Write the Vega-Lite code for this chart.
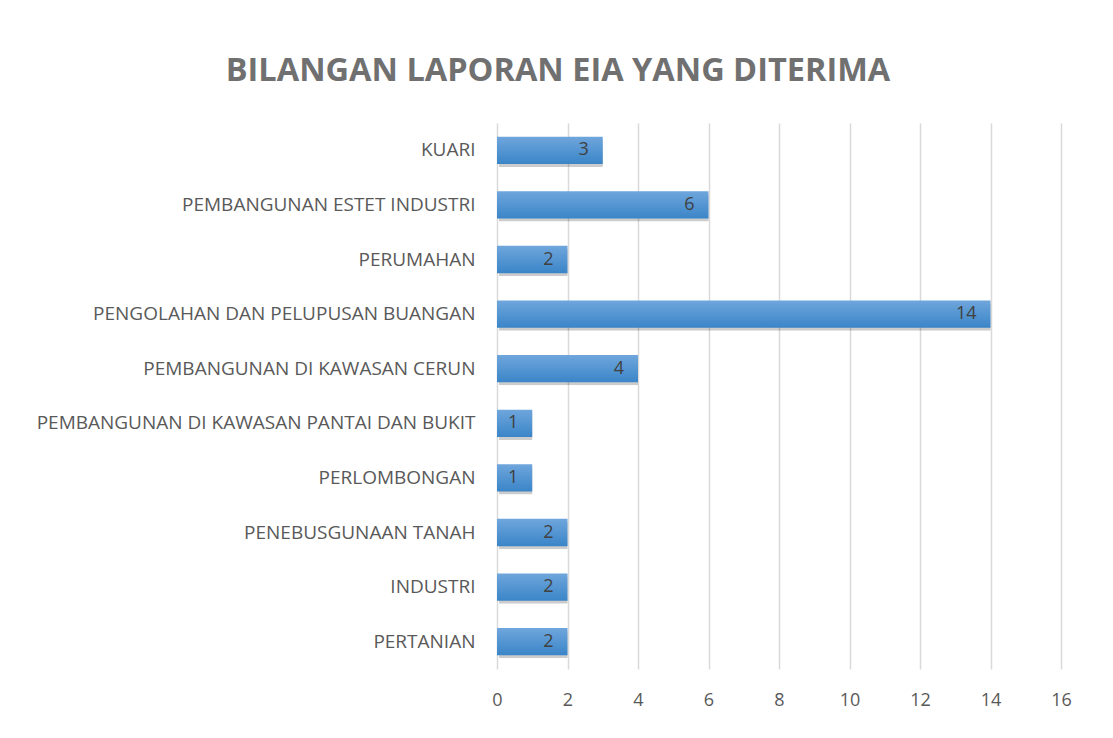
{
  "$schema": "https://vega.github.io/schema/vega-lite/v6.json",
  "autosize": "none",
  "width": 564,
  "height": 546,
  "padding": {"left": 497, "top": 123, "right": 52, "bottom": 69},
  "background": "#ffffff",
  "title": {
    "text": "BILANGAN LAPORAN EIA YANG DITERIMA",
    "font": "Open Sans",
    "fontSize": 32.5,
    "fontWeight": "bold",
    "color": "#707070",
    "anchor": "middle",
    "dx": -221,
    "offset": 36
  },
  "data": {
    "values": [
      {"kategori": "KUARI", "bilangan": 3},
      {"kategori": "PEMBANGUNAN ESTET INDUSTRI", "bilangan": 6},
      {"kategori": "PERUMAHAN", "bilangan": 2},
      {"kategori": "PENGOLAHAN DAN PELUPUSAN BUANGAN", "bilangan": 14},
      {"kategori": "PEMBANGUNAN DI KAWASAN CERUN", "bilangan": 4},
      {"kategori": "PEMBANGUNAN DI KAWASAN PANTAI DAN BUKIT", "bilangan": 1},
      {"kategori": "PERLOMBONGAN", "bilangan": 1},
      {"kategori": "PENEBUSGUNAAN TANAH", "bilangan": 2},
      {"kategori": "INDUSTRI", "bilangan": 2},
      {"kategori": "PERTANIAN", "bilangan": 2}
    ]
  },
  "encoding": {
    "y": {
      "field": "kategori",
      "type": "nominal",
      "sort": null,
      "scale": {"paddingInner": 0.5, "paddingOuter": 0.25},
      "axis": {
        "title": null,
        "domain": false,
        "ticks": false,
        "labelFont": "Open Sans",
        "labelFontSize": 19,
        "labelColor": "#595959",
        "labelPadding": 22,
        "labelLimit": 500
      }
    },
    "x": {
      "field": "bilangan",
      "type": "quantitative",
      "scale": {"domain": [0, 16], "nice": false},
      "axis": {
        "title": null,
        "values": [0, 2, 4, 6, 8, 10, 12, 14, 16],
        "domain": false,
        "ticks": false,
        "grid": true,
        "gridColor": "#d9d9d9",
        "gridWidth": 1.5,
        "labelFlush": false,
        "labelFont": "Open Sans",
        "labelFontSize": 18,
        "labelColor": "#595959",
        "labelPadding": 22
      }
    }
  },
  "layer": [
    {
      "mark": {"type": "bar", "color": "#000000", "opacity": 0.2, "xOffset": 2, "yOffset": 3, "cornerRadius": 1},
      "encoding": {}
    },
    {
      "mark": {
        "type": "bar",
        "color": {
          "gradient": "linear",
          "x1": 0, "y1": 0, "x2": 0, "y2": 1,
          "stops": [
            {"offset": 0, "color": "#6fa6dc"},
            {"offset": 1, "color": "#3a85c8"}
          ]
        }
      },
      "encoding": {}
    },
    {
      "mark": {"type": "text", "align": "right", "dx": -14, "font": "Open Sans", "fontSize": 18, "color": "#404040", "baseline": "middle"},
      "encoding": {"text": {"field": "bilangan", "type": "quantitative"}}
    }
  ],
  "config": {"view": {"stroke": null}}
}
